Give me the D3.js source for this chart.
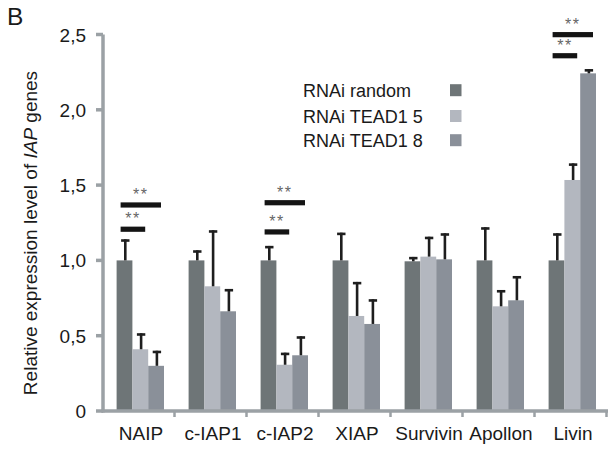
<!DOCTYPE html>
<html>
<head>
<meta charset="utf-8">
<script src="https://cdn.jsdelivr.net/npm/d3@7"></script>
<style>
  body { margin: 0; background: #fff; }
  text { font-family: "Liberation Sans", Arial, sans-serif; }
</style>
</head>
<body>
<svg id="chart" width="610" height="449"></svg>
<script>
// data
const genes = ["NAIP", "c-IAP1", "c-IAP2", "XIAP", "Survivin", "Apollon", "Livin"];
const groups = ["RNAi random", "RNAi TEAD1 5", "RNAi TEAD1 8"];
const random = [1.0, 1.0, 1.0, 1.0, 0.994, 1.0, 1.0];
const tead5 = [0.41, 0.828, 0.307, 0.631, 1.025, 0.695, 1.534];
const tead8 = [0.30, 0.662, 0.37, 0.578, 1.007, 0.735, 2.242];
const randomErr = [0.14, 0.067, 0.096, 0.184, 0.029, 0.22, 0.18];
const tead5Err = [0.106, 0.372, 0.08, 0.226, 0.132, 0.108, 0.11];
const tead8Err = [0.10, 0.148, 0.126, 0.164, 0.173, 0.161, 0.028];
const yTicks = [0, 0.5, 1.0, 1.5, 2.0, 2.5];
// significance brackets: gene, compared group, level
const sigGene = ["NAIP", "NAIP", "c-IAP2", "c-IAP2", "Livin", "Livin"];
const sigTo = [2, 1, 2, 1, 2, 1];
const sigLevel = [1.368, 1.207, 1.383, 1.189, 2.499, 2.359];

const colors = ["#6e7577", "#b3b7bf", "#8a9099"];
const axisColor = "#9ba1a5";

const svg = d3.select("#chart");

const y = d3.scaleLinear().domain([0, 2.5]).range([411, 34.5]);
const x0 = d3.scaleBand().domain(genes).range([104, 608]);
const x1 = d3.scaleBand().domain(d3.range(3)).range([12.6, 60]);

const rows = genes.map((g, i) => ({
  gene: g,
  vals: [random[i], tead5[i], tead8[i]],
  errs: [randomErr[i], tead5Err[i], tead8Err[i]]
}));

// bars
const grp = svg.selectAll(".gene")
  .data(rows)
  .join("g")
  .attr("class", "gene")
  .attr("transform", d => `translate(${x0(d.gene)},0)`);

grp.selectAll("rect")
  .data(d => d.vals.map((v, k) => ({ v, k, e: d.errs[k] })))
  .join("rect")
  .attr("x", d => x1(d.k))
  .attr("width", x1.bandwidth())
  .attr("y", d => y(d.v))
  .attr("height", d => y(0) - y(d.v))
  .attr("fill", d => colors[d.k]);

// error bars
const eb = grp.selectAll(".err")
  .data(d => d.vals.map((v, k) => ({ v, k, e: d.errs[k] })))
  .join("g")
  .attr("class", "err")
  .attr("stroke", "#1e1e1e")
  .attr("stroke-width", 2.6);
eb.append("line")
  .attr("x1", d => x1(d.k) + x1.bandwidth() / 2 + 0.8)
  .attr("x2", d => x1(d.k) + x1.bandwidth() / 2 + 0.8)
  .attr("y1", d => y(d.v))
  .attr("y2", d => y(d.v + d.e));
eb.append("line")
  .attr("x1", d => x1(d.k) + x1.bandwidth() / 2 - 3.4)
  .attr("x2", d => x1(d.k) + x1.bandwidth() / 2 + 5)
  .attr("y1", d => y(d.v + d.e) + 1.2)
  .attr("y2", d => y(d.v + d.e) + 1.2);

// axes
const axes = svg.append("g").attr("stroke", axisColor).attr("stroke-width", 3.5);
axes.append("line").attr("x1", 103).attr("x2", 103).attr("y1", y(2.5)).attr("y2", y(0) + 1.5);
axes.append("line").attr("x1", 101.5).attr("x2", 608).attr("y1", y(0)).attr("y2", y(0));
axes.selectAll(".yt").data(yTicks).join("line")
  .attr("x1", 96).attr("x2", 103)
  .attr("y1", d => y(d)).attr("y2", d => y(d));
const bounds = genes.map(g => x0(g)).concat([x0.range()[1]]);
axes.selectAll(".xt").data(bounds.slice(1)).join("line")
  .attr("stroke-width", 2.5)
  .attr("x1", d => d - 1.5).attr("x2", d => d - 1.5)
  .attr("y1", y(0)).attr("y2", y(0) + 6);

svg.selectAll(".ylab").data(yTicks).join("text")
  .attr("x", 86).attr("y", d => y(d) + 7)
  .attr("text-anchor", "end")
  .attr("font-size", 19)
  .attr("fill", "#1a1a1a")
  .text(d => d === 0 ? "0" : d.toFixed(1).replace(".", ","));

svg.selectAll(".xlab").data(genes).join("text")
  .attr("x", d => x0(d) + x0.bandwidth() / 2 + 1)
  .attr("y", 440)
  .attr("text-anchor", "middle")
  .attr("font-size", 19)
  .attr("fill", "#1a1a1a")
  .text(d => d);

// y title
const yt = svg.append("text")
  .attr("transform", "translate(37,233) rotate(-90)")
  .attr("text-anchor", "middle")
  .attr("font-size", 19)
  .attr("fill", "#1a1a1a");
yt.append("tspan").text("Relative expression level of ");
yt.append("tspan").attr("font-style", "italic").text("IAP");
yt.append("tspan").text(" genes");

// panel letter
svg.append("text").attr("x", 7).attr("y", 25).attr("font-size", 24.5).attr("fill", "#1a1a1a").text("B");

// legend
const lg = svg.selectAll(".lg").data(groups).join("g")
  .attr("transform", (d, i) => `translate(0,${[96.7, 122.5, 146.7][i]})`);
lg.append("text").attr("x", 303).attr("font-size", 18).attr("fill", "#1a1a1a").text(d => d);
lg.append("rect").attr("x", 450).attr("y", -12.5).attr("width", 11.5).attr("height", 12)
  .attr("fill", (d, i) => colors[i]);

// significance brackets
sigGene.forEach((g, i) => {
  const bx = x0(g);
  const xa = bx + x1(0) + 4;
  const xb = bx + x1(sigTo[i]) + x1.bandwidth() - 3;
  svg.append("rect")
    .attr("x", xa).attr("width", xb - xa)
    .attr("y", y(sigLevel[i]) - 2.6).attr("height", 5.2)
    .attr("fill", "#141414");
  svg.append("text")
    .attr("x", (xa + xb) / 2).attr("y", y(sigLevel[i]) - 5)
    .attr("text-anchor", "middle")
    .attr("font-size", 16)
    .attr("letter-spacing", 1.5)
    .attr("fill", "#666")
    .text("**");
});
</script>
</body>
</html>
